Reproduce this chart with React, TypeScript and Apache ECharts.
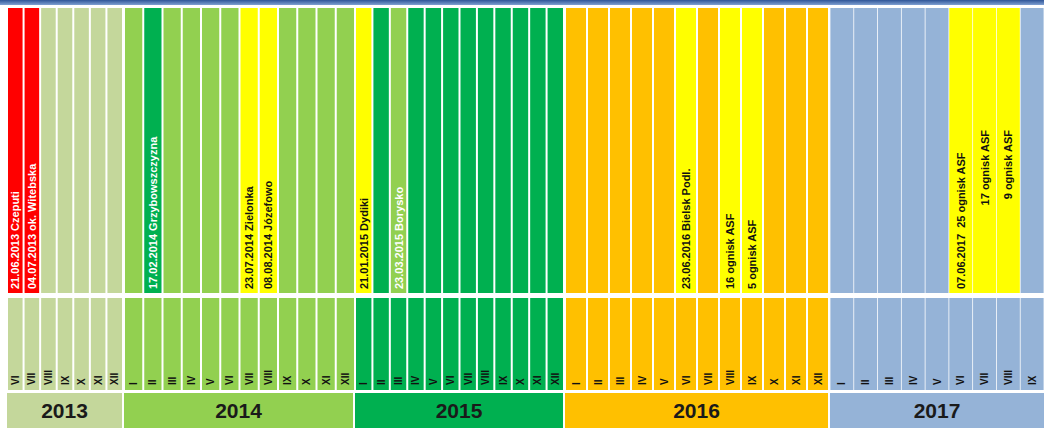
import React, { useEffect, useRef } from 'react';
import * as echarts from 'echarts';

// ---------- DATA ----------
const years = ['2013', '2014', '2015', '2016', '2017'];

const months2013 = ['VI', 'VII', 'VIII', 'IX', 'X', 'XI', 'XII'];
const months2014 = ['I', 'II', 'III', 'IV', 'V', 'VI', 'VII', 'VIII', 'IX', 'X', 'XI', 'XII'];
const months2015 = ['I', 'II', 'III', 'IV', 'V', 'VI', 'VII', 'VIII', 'IX', 'X', 'XI', 'XII'];
const months2016 = ['I', 'II', 'III', 'IV', 'V', 'VI', 'VII', 'VIII', 'IX', 'X', 'XI', 'XII'];
const months2017 = ['I', 'II', 'III', 'IV', 'V', 'VI', 'VII', 'VIII', 'IX'];
const monthsByYear = [months2013, months2014, months2015, months2016, months2017];

// event kind per month ('base' = colour of the year)
const kinds2013 = ['red', 'red', 'base', 'base', 'base', 'base', 'base'];
const kinds2014 = ['base', 'dark', 'base', 'base', 'base', 'base', 'yellow', 'yellow', 'base', 'base', 'base', 'base'];
const kinds2015 = ['yellow', 'base', 'light', 'base', 'base', 'base', 'base', 'base', 'base', 'base', 'base', 'base'];
const kinds2016 = ['base', 'base', 'base', 'base', 'base', 'yellow', 'base', 'yellow', 'yellow', 'base', 'base', 'base'];
const kinds2017 = ['base', 'base', 'base', 'base', 'base', 'yellow', 'yellow', 'yellow', 'base'];
const kindsByYear = [kinds2013, kinds2014, kinds2015, kinds2016, kinds2017];

// event descriptions per month
const events2013 = ['21.06.2013 Czeputi', '04.07.2013 ok. Witebska', '', '', '', '', ''];
const events2014 = ['', '17.02.2014 Grzybowszczyzna', '', '', '', '', '23.07.2014 Zielonka', '08.08.2014 Józefowo', '', '', '', ''];
const events2015 = ['21.01.2015 Dydiki', '', '23.03.2015 Borysko', '', '', '', '', '', '', '', '', ''];
const events2016 = ['', '', '', '', '', '23.06.2016 Bielsk Podl.', '', '16 ognisk ASF', '5 ognisk ASF', '', '', ''];
const events2017 = ['', '', '', '', '', '07.06.2017  25 ognisk ASF', '17 ognisk ASF', '9 ognisk ASF', ''];
const eventsByYear = [events2013, events2014, events2015, events2016, events2017];

// ---------- STYLE / LAYOUT ----------
const yearColors = ['#c4d79b', '#92d050', '#00b050', '#ffc000', '#95b3d7'];
const kindColors: Record<string, string> = {
  red: '#ff0000',
  dark: '#00b050',
  light: '#92d050',
  yellow: '#ffff00',
};
const colLeft = [7, 124, 355, 565, 830];
const colRight = [123, 355, 564, 829, 1055];
const yearBoxRight = [122, 353, 563, 828, 1044];
const topAnchored: Record<string, boolean> = { '4-6': true, '4-7': true };

const TOP_Y = 8;
const TOP_H = 285;
const MID_Y = 298;
const MID_H = 92;
const YEAR_Y = 393;
const YEAR_H = 35;

function buildOption() {
  const grid: any[] = [];
  const xAxis: any[] = [];
  const yAxis: any[] = [];
  const series: any[] = [];

  const addGrid = (left: number, width: number, top: number, height: number, cats: string[]) => {
    const idx = grid.length;
    grid.push({ left, top, width, height, show: false });
    xAxis.push({ type: 'category', gridIndex: idx, data: cats, show: false, boundaryGap: true });
    yAxis.push({ type: 'value', gridIndex: idx, min: 0, max: 1, show: false });
    return idx;
  };

  years.forEach((year, yi) => {
    const months = monthsByYear[yi];
    const width = colRight[yi] - colLeft[yi];
    const barW = width / months.length - 2;

    // top row: events
    const gTop = addGrid(colLeft[yi], width, TOP_Y, TOP_H, months);
    series.push({
      type: 'bar',
      xAxisIndex: gTop,
      yAxisIndex: gTop,
      barWidth: barW,
      silent: true,
      data: months.map((m, mi) => {
        const kind = kindsByYear[yi][mi];
        const color = kind === 'base' ? yearColors[yi] : kindColors[kind];
        const text = eventsByYear[yi][mi];
        const atTop = topAnchored[`${yi}-${mi}`];
        return {
          value: 1,
          itemStyle: { color },
          label: {
            show: !!text,
            formatter: text,
            rotate: 90,
            position: atTop ? 'insideTop' : 'insideBottom',
            distance: atTop ? 122 : 4,
            align: atTop ? 'right' : 'left',
            verticalAlign: 'middle',
            color: kind === 'yellow' ? '#111111' : '#ffffff',
            fontFamily: 'Liberation Sans',
            fontWeight: 'bold',
            fontSize: 11,
          },
        };
      }),
    });

    // middle row: months
    const gMid = addGrid(colLeft[yi], width, MID_Y, MID_H, months);
    series.push({
      type: 'bar',
      xAxisIndex: gMid,
      yAxisIndex: gMid,
      barWidth: barW,
      silent: true,
      itemStyle: { color: yearColors[yi] },
      label: {
        show: true,
        formatter: '{b}',
        rotate: 90,
        position: 'insideBottom',
        distance: 5,
        align: 'left',
        verticalAlign: 'middle',
        color: '#111111',
        fontFamily: 'Liberation Sans',
        fontWeight: 'bold',
        fontSize: 10,
      },
      data: months.map(() => 1),
    });

    // bottom row: year
    const gYear = addGrid(colLeft[yi], yearBoxRight[yi] - colLeft[yi], YEAR_Y, YEAR_H, [year]);
    series.push({
      type: 'bar',
      xAxisIndex: gYear,
      yAxisIndex: gYear,
      barWidth: '100%',
      silent: true,
      itemStyle: { color: yearColors[yi] },
      label: {
        show: true,
        position: 'inside',
        formatter: '{b}',
        color: '#1a1a1a',
        fontFamily: 'Liberation Sans',
        fontWeight: 'bold',
        fontSize: 21,
      },
      data: [1],
    });
  });

  return {
    animation: false,
    backgroundColor: '#ffffff',
    grid,
    xAxis,
    yAxis,
    series,
    graphic: [
      {
        type: 'rect',
        shape: { x: 0, y: 0, width: 1044, height: 5 },
        style: {
          fill: new echarts.graphic.LinearGradient(0, 0, 0, 1, [
            { offset: 0, color: '#2f5597' },
            { offset: 1, color: '#7fa0d2' },
          ]),
        },
        silent: true,
      },
    ],
  };
}

export default function App() {
  const ref = useRef<HTMLDivElement>(null);
  useEffect(() => {
    if (!ref.current) return;
    const chart = echarts.init(ref.current, null, { renderer: 'svg' });
    chart.setOption(buildOption() as any);
    return () => chart.dispose();
  }, []);
  return (
    <div
      ref={ref}
      style={{ position: 'fixed', left: 0, top: 0, width: 1044, height: 428, background: '#fff' }}
    />
  );
}
